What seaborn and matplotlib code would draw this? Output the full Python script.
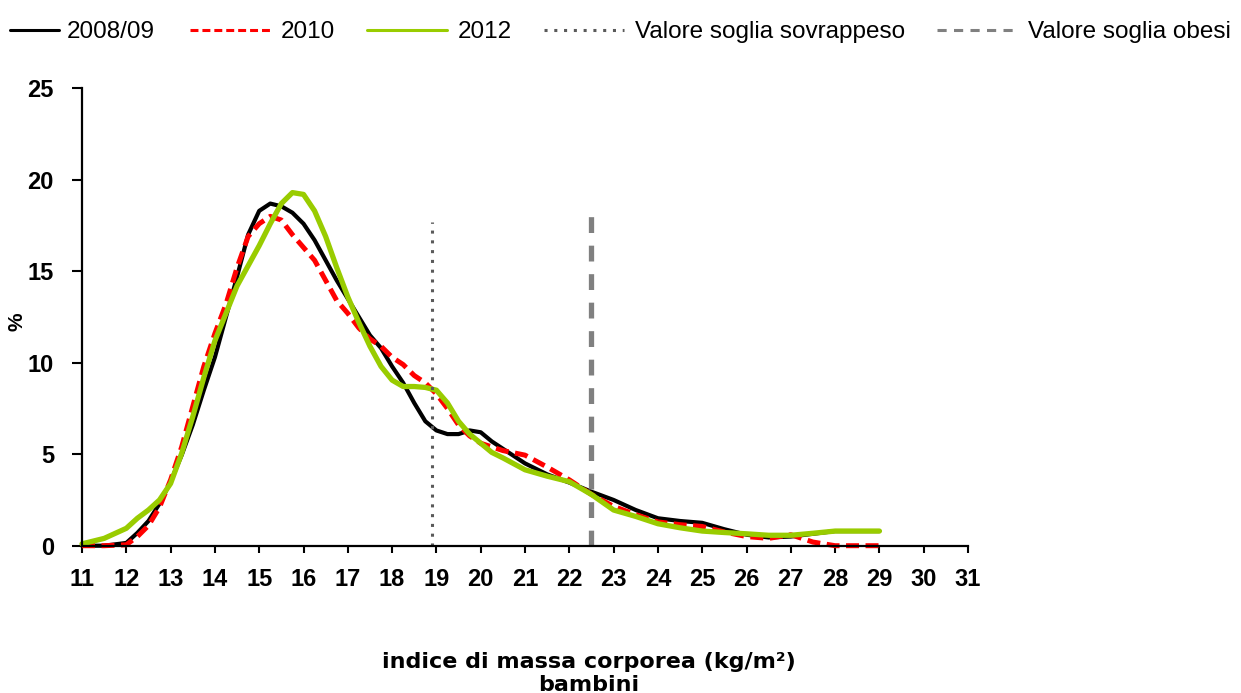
import matplotlib
matplotlib.use("Agg")
import matplotlib.pyplot as plt
import seaborn as sns
import pandas as pd

# ---- data ----
bmi = [11, 11.5,
       12, 12.25, 12.5, 12.75, 13, 13.25, 13.5, 13.75, 14, 14.25, 14.5, 14.75,
       15, 15.25, 15.5, 15.75, 16, 16.25, 16.5, 16.75, 17, 17.25, 17.5, 17.75,
       18, 18.25, 18.5, 18.75, 19, 19.25, 19.5, 19.75, 20, 20.25,
       20.5, 21, 21.5, 22, 22.5, 23, 23.5, 24, 24.5, 25, 25.5, 26, 26.5, 27,
       27.5, 28, 28.5, 29]
y2008 = [0, 0,
         0.15, 0.7, 1.35, 2.3, 3.5, 4.95, 6.6, 8.5, 10.3, 12.5, 14.7, 17.0,
         18.3, 18.7, 18.55, 18.2, 17.6, 16.7, 15.6, 14.5, 13.5, 12.5, 11.5, 10.8,
         9.8, 8.9, 7.8, 6.8, 6.3, 6.1, 6.1, 6.3, 6.2, 5.7,
         5.3, 4.5, 3.9, 3.45, 2.95, 2.5, 1.95, 1.5, 1.35, 1.25, 0.9, 0.6, 0.45, 0.5,
         0.65, 0.8, 0.8, 0.8]
y2010 = [0, 0,
         0.05, 0.5, 1.1, 2.1, 3.6, 5.4, 7.6, 9.8, 11.6, 13.2, 15.2, 16.9,
         17.6, 18.0, 17.8, 17.0, 16.3, 15.6, 14.5, 13.4, 12.7, 11.9, 11.3, 10.9,
         10.3, 9.9, 9.3, 8.9, 8.3, 7.5, 6.6, 6.0, 5.6, 5.4,
         5.2, 4.95, 4.3, 3.6, 2.8, 2.15, 1.7, 1.3, 1.15, 1.05, 0.75, 0.5, 0.4, 0.6,
         0.2, 0, 0, 0]
y2012 = [0.1, 0.4,
         0.95, 1.5, 1.95, 2.5, 3.4, 5.05, 7.05, 9.2, 11.2, 12.7, 14.2, 15.3,
         16.4, 17.6, 18.7, 19.3, 19.2, 18.3, 16.9, 15.2, 13.6, 12.2, 10.9, 9.8,
         9.05, 8.7, 8.7, 8.65, 8.5, 7.8, 6.8, 6.1, 5.6, 5.1,
         4.8, 4.15, 3.8, 3.5, 2.8, 1.95, 1.6, 1.2, 0.98, 0.8, 0.72, 0.65, 0.57, 0.57,
         0.68, 0.8, 0.8, 0.8]
series_names = ["2008/09", "2010", "2012"]
threshold_names = ["Valore soglia sovrappeso", "Valore soglia obesi"]
threshold_x = [18.9, 22.5]
threshold_top = [17.7, 18.1]
x_ticks = list(range(11, 32))
y_ticks = [0, 5, 10, 15, 20, 25]

sns.set_style("white")
plt.rcParams["font.family"] = ["Liberation Sans", "DejaVu Sans"]
plt.rcParams["text.color"] = "black"
plt.rcParams["axes.labelcolor"] = "black"
plt.rcParams["xtick.color"] = "black"
plt.rcParams["ytick.color"] = "black"

fig = plt.figure(figsize=(12.41, 6.93), dpi=100)
ax = fig.add_axes([82 / 1241, 1 - 545.7 / 693, 886 / 1241, 457.4 / 693])

df = pd.DataFrame({"bmi": bmi, series_names[0]: y2008,
                   series_names[1]: y2010, series_names[2]: y2012})

sns.lineplot(data=df, x="bmi", y=series_names[0], ax=ax, color="black",
             linewidth=3.0, label=series_names[0], clip_on=False)
l_black = ax.lines[-1]
sns.lineplot(data=df, x="bmi", y=series_names[1], ax=ax, color="#FF0000",
             linewidth=3.6, label=series_names[1], clip_on=False)
l_red = ax.lines[-1]
l_red.set_linestyle((0, (2.6, 1.3)))
sns.lineplot(data=df, x="bmi", y=series_names[2], ax=ax, color="#99CC00",
             linewidth=3.8, label=series_names[2], clip_on=False)
l_green = ax.lines[-1]
for ln in (l_black, l_green):
    ln.set_solid_capstyle("round")
    ln.set_solid_joinstyle("round")

v1 = ax.vlines(threshold_x[0], 0, threshold_top[0], colors="#5a5a5a",
               linestyles=(0, (1, 2.2)), linewidth=2.2, label=threshold_names[0])
v2 = ax.vlines(threshold_x[1], 0, threshold_top[1], colors="#808080",
               linestyles=(0, (3, 2.4)), linewidth=3.8, label=threshold_names[1])

ax.set_xlim(11, 31)
ax.set_ylim(0, 25)
ax.set_xticks(x_ticks)
ax.set_yticks(y_ticks)
ax.set_xticklabels([str(t) for t in x_ticks])
ax.set_yticklabels([str(t) for t in y_ticks])
for lab in ax.get_xticklabels() + ax.get_yticklabels():
    lab.set_fontweight("bold")
    lab.set_fontsize(17)
    lab.set_color("black")
ax.tick_params(axis="y", direction="out", length=7.2, width=1.5, pad=13,
               colors="black", left=True)
ax.tick_params(axis="x", direction="out", length=5, width=1.5, pad=11,
               colors="black", bottom=True)
sns.despine(ax=ax)
for s in ("left", "bottom"):
    ax.spines[s].set_linewidth(1.6)
    ax.spines[s].set_color("black")

ax.set_xlabel("")
ax.set_ylabel("%", fontsize=15, fontweight="bold", color="black")
ax.yaxis.set_label_coords(-0.063, 0.49)

ax.get_legend().remove()

fig.text(589 / 1241, 1 - 668.5 / 693, "indice di massa corporea (kg/m²)",
         ha="center", va="baseline", fontsize=16, fontweight="bold",
         color="black", family=["DejaVu Sans"])
fig.text(589 / 1241, 1 - 691 / 693, "bambini",
         ha="center", va="baseline", fontsize=16, fontweight="bold",
         color="black", family=["DejaVu Sans"])

leg1 = fig.legend([l_black], [series_names[0]], loc="center left",
                  bbox_to_anchor=(10 / 1241, 1 - 32 / 693), frameon=False,
                  fontsize=17.5, handlelength=2.0, handletextpad=0.33,
                  borderpad=0, borderaxespad=0, labelcolor="black")
leg2 = fig.legend([l_red, l_green, v1, v2],
                  [series_names[1], series_names[2]] + threshold_names,
                  loc="center left", bbox_to_anchor=(190 / 1241, 1 - 32 / 693),
                  frameon=False, ncol=4, fontsize=17.5, handlelength=3.3,
                  handletextpad=0.45, columnspacing=1.3, borderpad=0,
                  borderaxespad=0, labelcolor="black")
for lg in (leg1, leg2):
    for h in lg.legend_handles:
        try:
            h.set_linewidth(2.2)
        except Exception:
            pass

fig.savefig("out.png", dpi=100)
